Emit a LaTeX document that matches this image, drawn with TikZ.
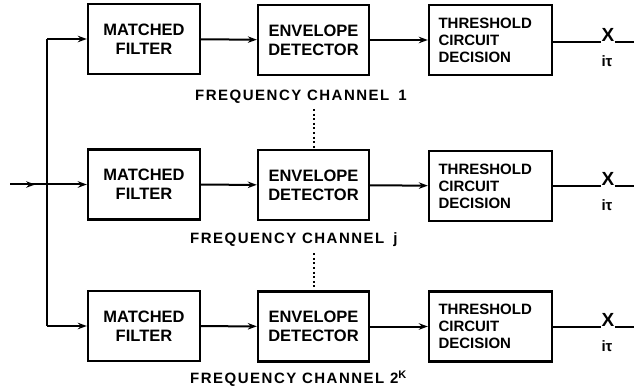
\documentclass[tikz,border=0pt]{standalone}
\usepackage{fontspec}
\setmainfont{Liberation Sans}
\usetikzlibrary{arrows.meta,decorations.markings}
\begin{document}
\begin{tikzpicture}[x=1pt,y=-1pt,
  blk/.style={draw,line width=2.4pt,minimum height=70pt,inner sep=0pt,
    font=\fontsize{16.5}{19}\selectfont\bfseries,align=center},
  mf/.style={blk,minimum width=112pt},
  ed/.style={blk,minimum width=111pt},
  tcd/.style={blk,minimum width=123pt,text width=104pt,align=left,
    font=\fontsize{15}{17}\selectfont\bfseries},
  wire/.style={line width=2pt},
  arr/.style={wire,-{Stealth[length=9pt,width=6.5pt]}},
  midarr/.style={wire,postaction={decorate},decoration={markings,
    mark=at position 0.68 with {\arrow{Stealth[length=9pt,width=6.5pt]}}}},
  chan/.style={anchor=west,inner sep=0pt,
    font=\fontsize{15}{15}\selectfont\bfseries\addfontfeature{LetterSpace=10}},
  xl/.style={inner sep=0pt,anchor=south,font=\fontsize{19}{19}\selectfont\bfseries},
  sub/.style={inner sep=0pt,font=\fontsize{15}{15}\selectfont\bfseries},
  dots/.style={line width=2pt,dash pattern=on 2pt off 2.6pt}
]
\useasboundingbox (0,0) rectangle (642,390);

% row 1
\node[mf]  (m1) at (144,39)   {MATCHED\\FILTER};
\node[ed]  (e1) at (313.5,40) {ENVELOPE\\DETECTOR};
\node[tcd] (t1) at (490.5,40) {THRESHOLD\\CIRCUIT\\DECISION};
% row 2
\node[mf]  (m2) at (144,184.5)   {MATCHED\\FILTER};
\node[ed]  (e2) at (313.5,185) {ENVELOPE\\DETECTOR};
\node[tcd] (t2) at (490.5,186) {THRESHOLD\\CIRCUIT\\DECISION};
% row 3
\node[mf]  (m3) at (144,326)   {MATCHED\\FILTER};
\node[ed]  (e3) at (313.5,326.5) {ENVELOPE\\DETECTOR};
\node[tcd] (t3) at (490.5,326.5) {THRESHOLD\\CIRCUIT\\DECISION};

% channel labels
\node[chan] (l1) at (195,97)  {FREQUENCY CHANNEL\hspace{9pt}1};
\node[chan] (l2) at (190,240) {FREQUENCY CHANNEL\hspace{9pt}j};
\node[chan] (l3) at (190,379) {FREQUENCY CHANNEL 2\raisebox{5pt}{\fontsize{11}{11}\selectfont K}};

% input
\coordinate (in) at (10,184.5);
\coordinate (jn) at (47,184.5);
\draw[midarr] (in) -- (jn);
\draw[wire] (m1.west -| jn) -- (m3.west -| jn);
\draw[arr] (m1.west -| jn) -- (m1.west);
\draw[arr] (jn) -- (m2.west);
\draw[arr] (m3.west -| jn) -- (m3.west);

% between blocks
\draw[arr] (m1) -- (e1);
\draw[arr] (e1) -- (t1);
\draw[arr] (m2) -- (e2);
\draw[arr] (e2) -- (t2);
\draw[arr] (m3) -- (e3);
\draw[arr] (e3) -- (t3);

% dotted links
\draw[dots] (e2.north |- l1.south) ++(0,5) coordinate (d1) -- (e2.north);
\draw[dots] (e3.north |- l2.south) ++(0,6) coordinate (d2) -- (e3.north);

% outputs
\node[xl] (x1) at (608,42) {X};
\node[xl] (x2) at (608,186) {X};
\node[xl] (x3) at (608,327) {X};
\coordinate (o1) at (634,42);
\coordinate (o2) at (634,186);
\coordinate (o3) at (634,327);
\draw[wire] (t1.east |- x1.south) -- (x1.south west);
\draw[wire] (x1.south east) -- (o1);
\draw[wire] (t2.east |- x2.south) -- (x2.south west);
\draw[wire] (x2.south east) -- (o2);
\draw[wire] (t3.east |- x3.south) -- (x3.south west);
\draw[wire] (x3.south east) -- (o3);
\node[sub] (s1) at (607,61)  {iτ};
\node[sub] (s2) at (607,205) {iτ};
\node[sub] (s3) at (607,346) {iτ};
\end{tikzpicture}
\end{document}
